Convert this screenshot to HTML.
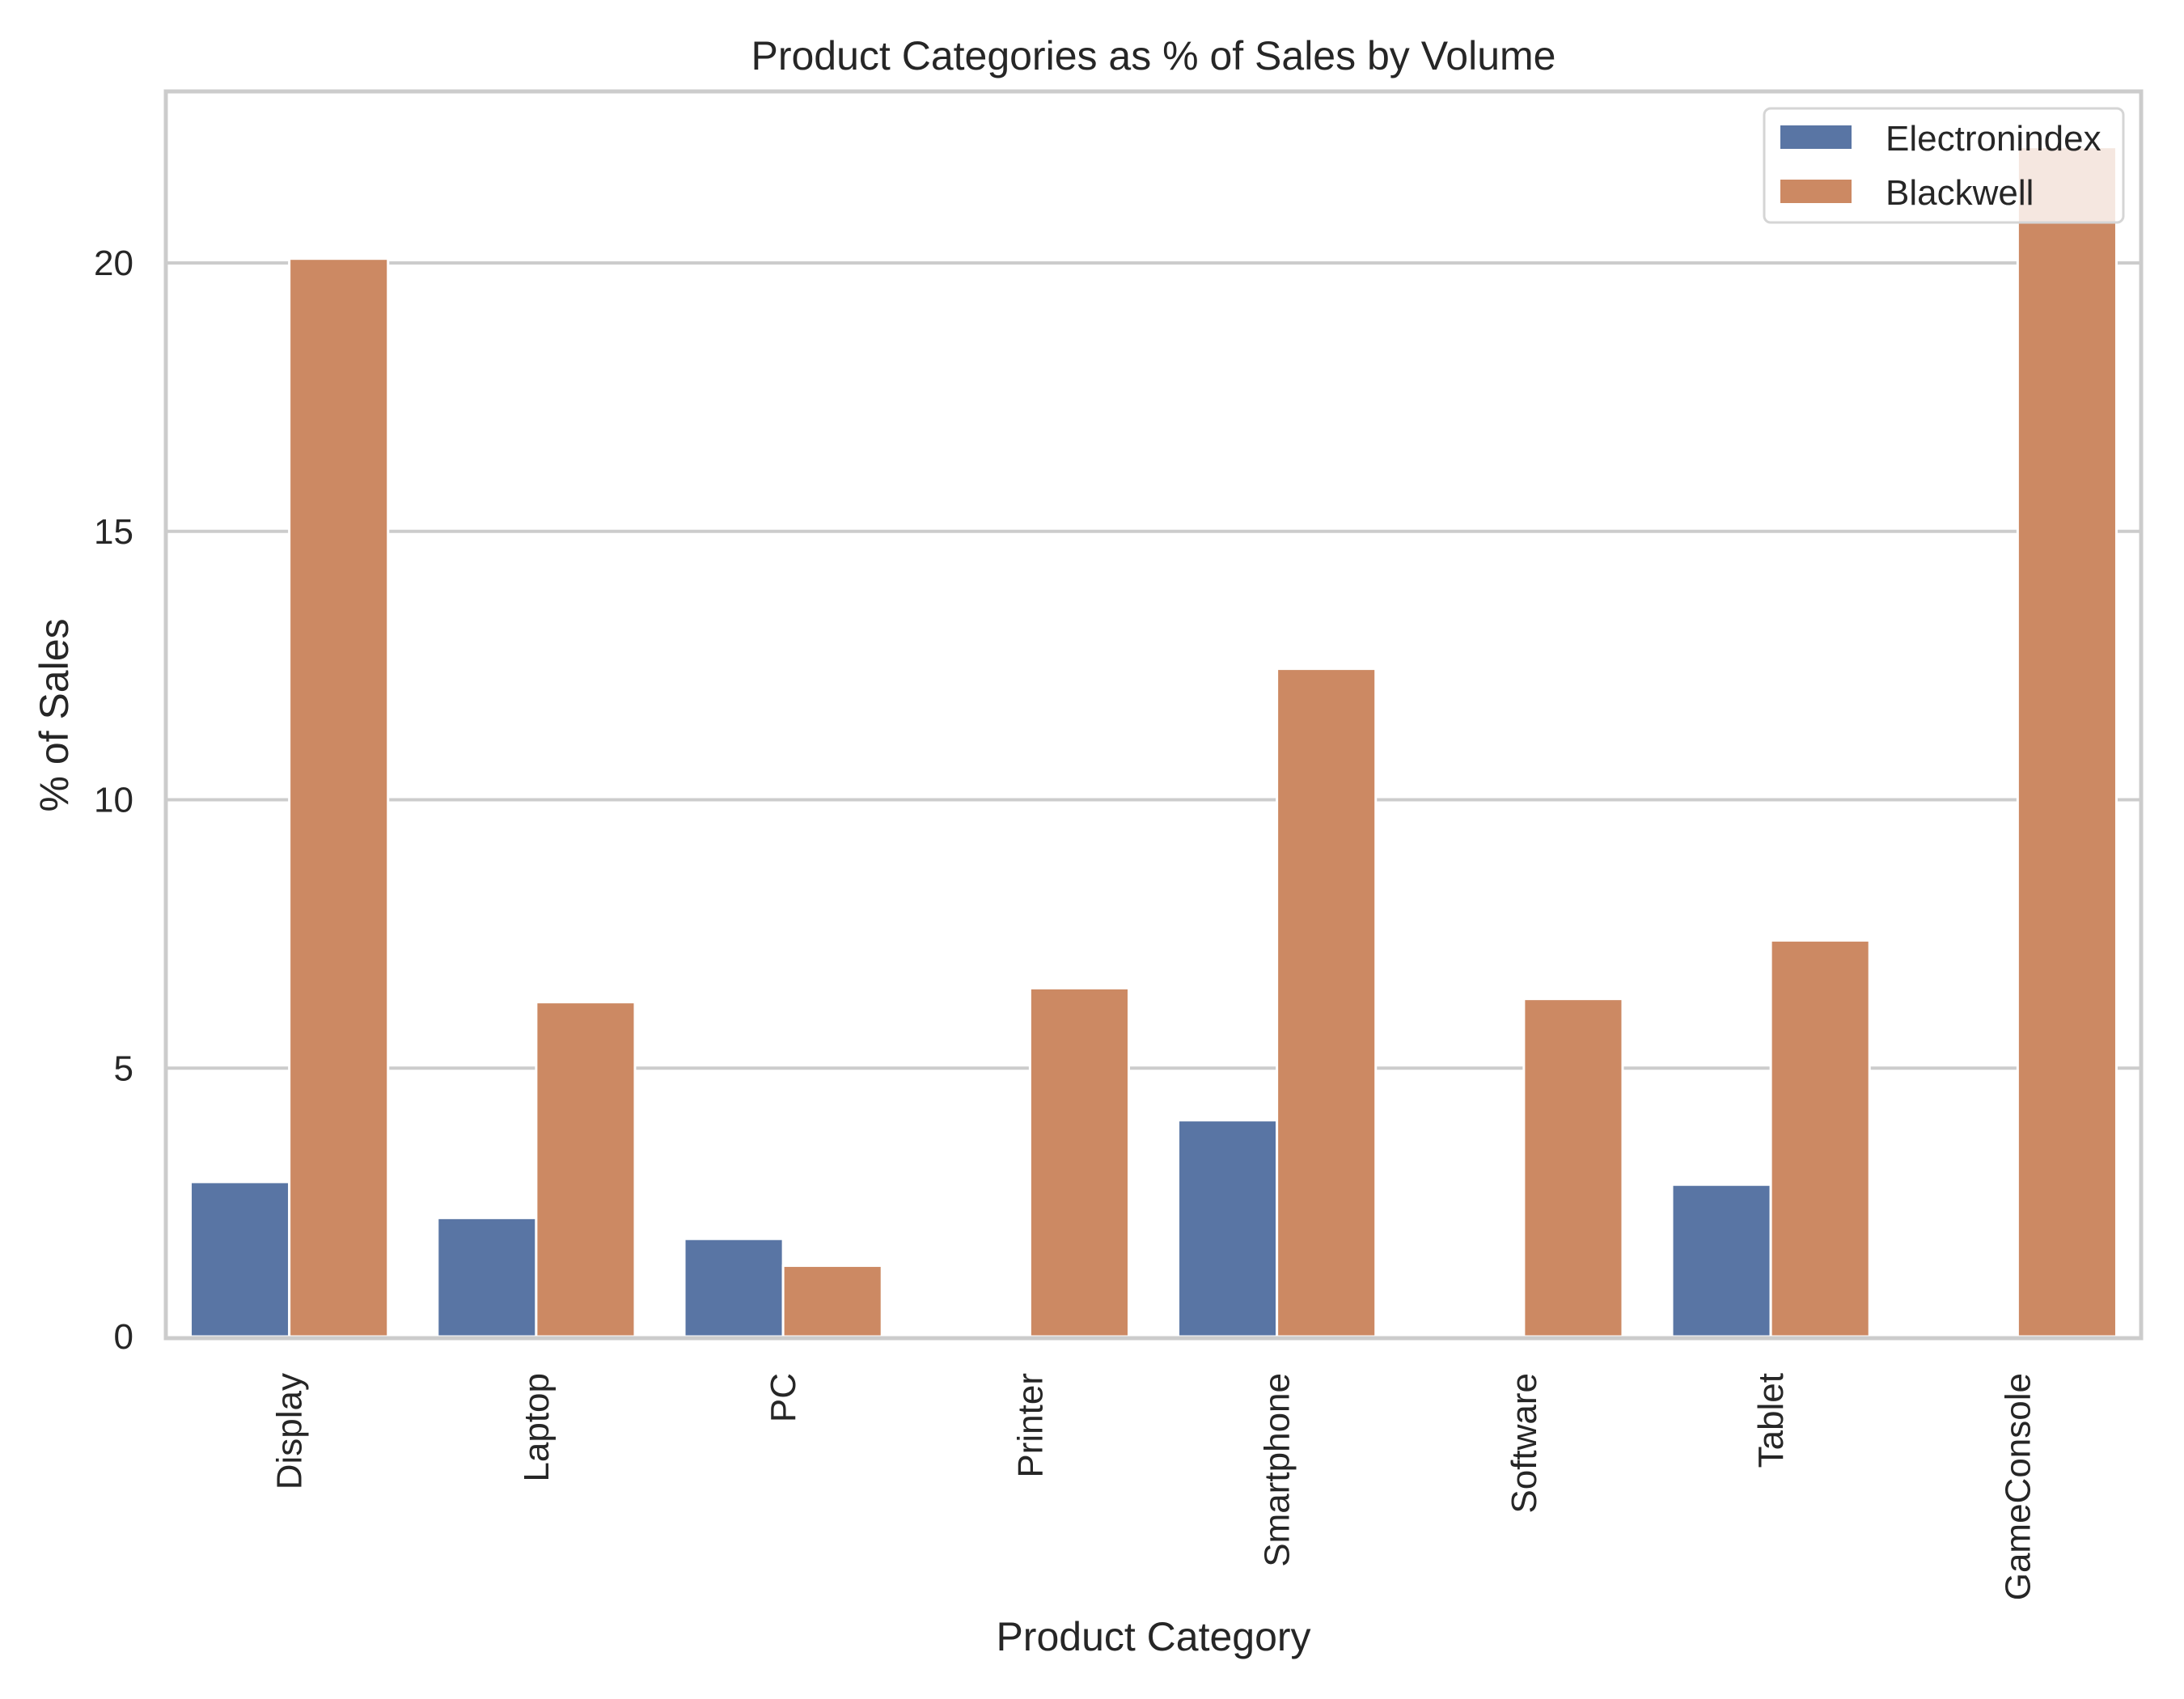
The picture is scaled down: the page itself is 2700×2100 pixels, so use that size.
<!DOCTYPE html>
<html><head><meta charset="utf-8"><style>
html,body{margin:0;padding:0;background:#fff;}
svg{display:block;font-family:"Liberation Sans",Arial,sans-serif;}
</style></head><body>
<svg id="chart" width="2700" height="2100" viewBox="0 0 2700 2100">
<rect x="0" y="0" width="2700" height="2100" fill="#fff"/>
<g id="grid"></g>
<g id="bars"></g>
<rect x="205" y="113" width="2442" height="1541" fill="none" stroke="#cccccc" stroke-width="5"/>
<g id="yticks"></g>
<g id="xticks"></g>
<text x="1426" y="86" font-size="50" text-anchor="middle" fill="#262626">Product Categories as % of Sales by Volume</text>
<text x="1426" y="2040" font-size="50" text-anchor="middle" fill="#262626">Product Category</text>
<text transform="translate(84,884) rotate(-90)" font-size="50" text-anchor="middle" fill="#262626">% of Sales</text>
<g>
<rect x="2181" y="134" width="444" height="141" rx="8" fill="#fff" fill-opacity="0.8" stroke="#d5d5d5" stroke-width="3"/>
<rect x="2201" y="155" width="88" height="29" fill="#5975a4"/>
<text x="2331" y="186" font-size="44" fill="#262626">Electronindex</text>
<rect x="2201" y="222" width="88" height="29" fill="#cc8963"/>
<text x="2331" y="253" font-size="44" fill="#262626">Blackwell</text>
</g>
</svg>
<script>
const categories = ["Display","Laptop","PC","Printer","Smartphone","Software","Tablet","GameConsole"];
const electronindex = [2.88, 2.21, 1.82, 0, 4.03, 0, 2.83, 0];
const blackwell = [20.08, 6.23, 1.32, 6.49, 12.44, 6.29, 7.38, 22.16];
const yTicks = [0, 5, 10, 15, 20];

const NS = "http://www.w3.org/2000/svg";
const L = 205, R = 2647, Y0 = 1652, PER = 66.35;
const bw = (R - L) / categories.length;
function yScale(v){ return Y0 - v * PER; }
function xCenter(i){ return L + bw * (i + 0.5); }
function mk(tag, attrs){ const e = document.createElementNS(NS, tag); for (const k in attrs) e.setAttribute(k, attrs[k]); return e; }

const grid = document.getElementById('grid');
const yt = document.getElementById('yticks');
yTicks.forEach(t => {
  const y = yScale(t);
  if (t > 0) {
    const ln = mk('line', {x1: L, x2: R, y1: y, y2: y, stroke: '#cccccc', 'stroke-width': 4});
    
    
    grid.appendChild(ln);
  }
  const tx = mk('text', {x: 165, y: y + 15, 'font-size': 44, 'text-anchor': 'end', fill: '#262626'});
  tx.textContent = t;
  
  
  yt.appendChild(tx);
});

const bars = document.getElementById('bars');
const xt = document.getElementById('xticks');
const barW = bw * 0.4;
categories.forEach((c, i) => {
  const cx = xCenter(i);
  [[electronindex, '#5975a4', 'electronindex', -1], [blackwell, '#cc8963', 'blackwell', 0]].forEach(([arr, col, nm, off]) => {
    const v = arr[i];
    const x = cx + off * barW;
    const r = mk('rect', {x: x, y: yScale(v), width: barW, height: Math.max(0, Y0 - yScale(v)), fill: col, stroke: '#fff', 'stroke-width': 3});
    
    
    bars.appendChild(r);
  });
  const tx = mk('text', {transform: 'translate(' + (cx + 15) + ',1697) rotate(-90)', 'font-size': 44, 'text-anchor': 'end', fill: '#262626'});
  tx.textContent = c;
  
  
  xt.appendChild(tx);
});
</script>
</body></html>
